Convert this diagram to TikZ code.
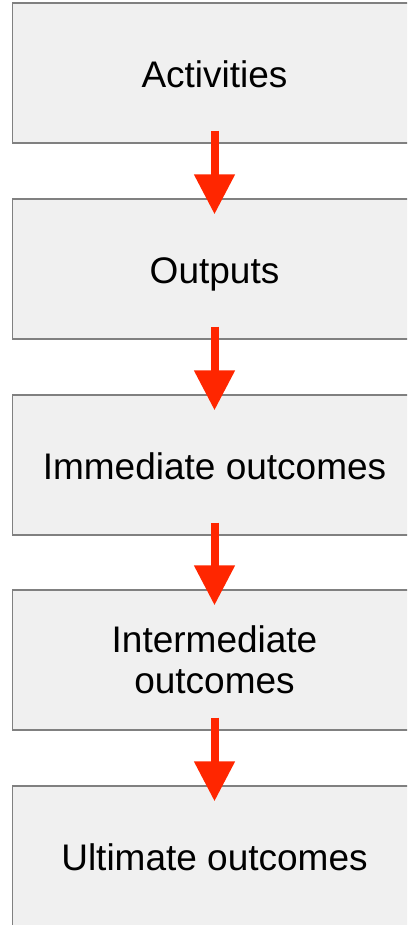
\documentclass[tikz,border=0pt]{standalone}
\usepackage{fontspec}
\setmainfont{Liberation Sans}
\usetikzlibrary{arrows.meta}
\definecolor{boxfill}{RGB}{240,240,240}
\definecolor{boxline}{RGB}{128,128,128}
\definecolor{arrred}{RGB}{255,38,0}
\begin{document}
\begin{tikzpicture}[x=1pt,y=-1pt,
  stagebox/.style={draw=boxline, line width=1.3pt, fill=boxfill,
    minimum width=404pt, minimum height=140pt, inner sep=0pt,
    align=center, font=\fontsize{37}{41}\selectfont},
  oneline/.style={text height=29pt, text depth=0pt},
  flow/.style={draw=arrred, line width=8pt,
    -{Triangle[width=39pt,length=40pt]}}]
\useasboundingbox (0,0) rectangle (407,925);
\clip (0,0) rectangle (407,925);
\node[stagebox,oneline] (a) at (214.5,73) {Activities};
\node[stagebox,oneline] (b) at (214.5,269) {Outputs};
\node[stagebox,oneline] (c) at (214.5,465) {Immediate outcomes};
\node[stagebox] (d) at (214.5,660) {Intermediate\\outcomes};
\node[stagebox,oneline] (e) at (214.5,856) {Ultimate outcomes};
\draw[flow] ([yshift=13pt]a.south) -- ([yshift=-16pt]b.north);
\draw[flow] ([yshift=13pt]b.south) -- ([yshift=-16pt]c.north);
\draw[flow] ([yshift=13pt]c.south) -- ([yshift=-16pt]d.north);
\draw[flow] ([yshift=13pt]d.south) -- ([yshift=-16pt]e.north);
\end{tikzpicture}
\end{document}
